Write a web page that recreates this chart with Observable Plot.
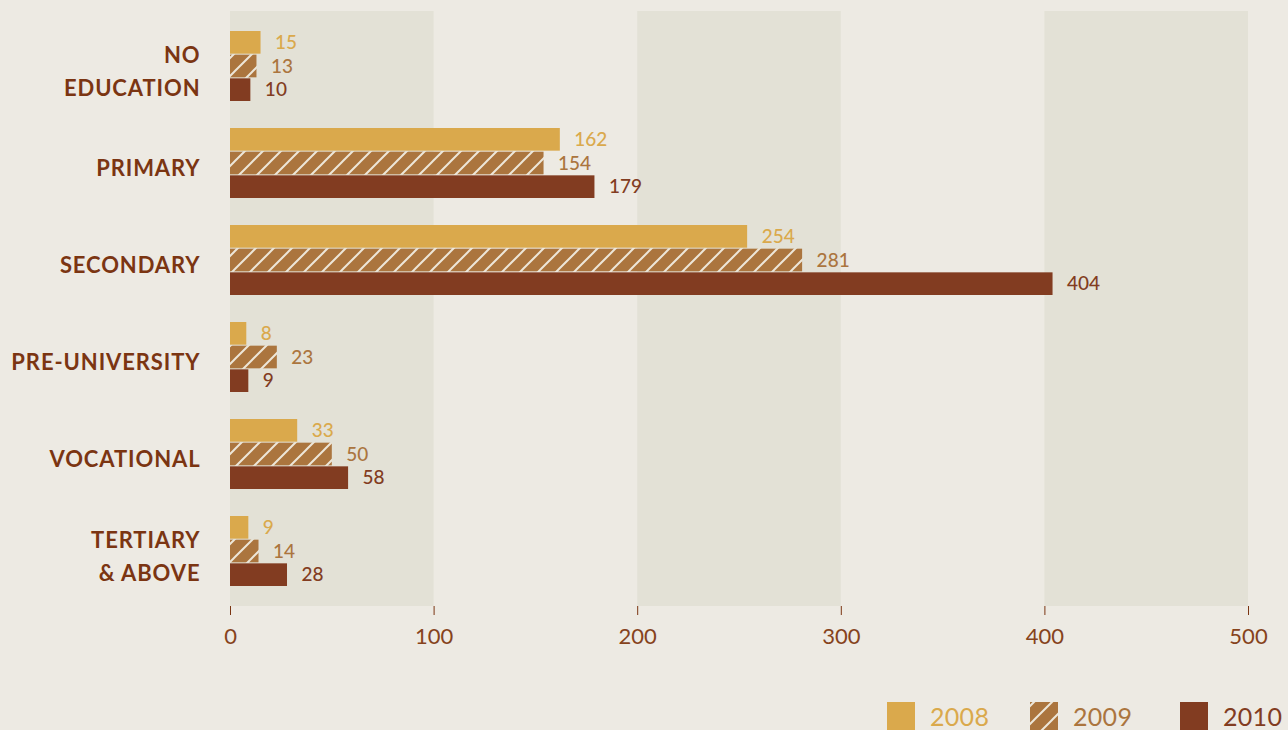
<!DOCTYPE html>
<html>
<head>
<meta charset="utf-8">
<script src="https://cdn.jsdelivr.net/npm/d3@7"></script>
<script src="https://cdn.jsdelivr.net/npm/@observablehq/plot@0.6"></script>
<style>
  html, body { margin: 0; padding: 0; background: #EDEAE3; }
  body { width: 1288px; height: 730px; overflow: hidden; font-family: Lato, "Open Sans", sans-serif; }
  #chart svg { display: block; }
  #legend { position: absolute; top: 702px; left: 0; width: 1288px; height: 28px; }
  .item { position: absolute; top: 0; display: flex; align-items: center; height: 28px; }
  .item span { font-size: 25px; margin-left: 15px; font-weight: 400; line-height: 28px; letter-spacing: 0.3px; }
</style>
</head>
<body>
<div id="chart"></div>
<div id="legend"></div>
<script>
const categories = ["NO\nEDUCATION", "PRIMARY", "SECONDARY", "PRE-UNIVERSITY", "VOCATIONAL", "TERTIARY\n& ABOVE"];
const years = ["2008", "2009", "2010"];
const v2008 = [15, 162, 254, 8, 33, 9];
const v2009 = [13, 154, 281, 23, 50, 14];
const v2010 = [10, 179, 404, 9, 58, 28];
const xTicks = [0, 100, 200, 300, 400, 500];

const colors = {"2008": "#DAA94C", "2009": "#AB753E", "2010": "#823C21"};
const textColor = "#7B3512";

const values = {"2008": v2008, "2009": v2009, "2010": v2010};
const rows = years.flatMap(yr => categories.map((c, i) => ({category: c, year: yr, value: values[yr][i]})));
const bands = [];
for (let i = 0; i + 1 < xTicks.length; i += 2) bands.push({x1: xTicks[i], x2: xTicks[i + 1]});

const W = 1288, H = 660, mt = 11, mb = H - 606, ml = 230, mr = W - 1248;
const pIn = 0.274, pOut = 0.179;
const step = (H - mt - mb) / (categories.length - pIn + 2 * pOut);
const bw = step * (1 - pIn);
const third = bw / 3;

const barFor = (yr, k) => Plot.barX(rows.filter(d => d.year === yr), {
  x: "value", y: "category",
  fill: yr === "2009" ? "url(#hatch2009)" : colors[yr],
  insetTop: k * third, insetBottom: (2 - k) * third
});
const labFor = (yr, k) => Plot.text(rows.filter(d => d.year === yr), {
  x: "value", y: "category", text: d => String(d.value),
  dy: (k - 1) * third, dx: 14, textAnchor: "start",
  fill: colors[yr], fontSize: 19, fontWeight: 500
});

const plot = Plot.plot({
  width: W, height: H,
  marginTop: mt, marginBottom: mb, marginLeft: ml, marginRight: mr,
  style: {background: "transparent", fontFamily: "Lato, 'Open Sans', sans-serif"},
  x: {domain: [0, 500], ticks: xTicks, label: null},
  y: {domain: categories, paddingInner: pIn, paddingOuter: pOut, axis: null, label: null},
  marks: [
    Plot.rect(bands, {x1: "x1", x2: "x2", fill: "#E3E1D6"}),
    Plot.axisX({ticks: xTicks, tickSize: 9, tickPadding: 13, stroke: textColor, fill: "#86431C",
      fontSize: 22, fontWeight: 400, label: null, tickFormat: d => String(d)}),
    ...years.map((yr, k) => barFor(yr, k)),
    ...years.map((yr, k) => labFor(yr, k)),
    Plot.text(categories, {y: d => d, text: d => d, frameAnchor: "left", dx: -30, dy: 2, textAnchor: "end",
      fill: textColor, fontSize: 22, fontWeight: 700, lineHeight: 1.5})
  ]
});

// hatch pattern
const ns = "http://www.w3.org/2000/svg";
function addPattern(svg, id) {
  const defs = document.createElementNS(ns, "defs");
  defs.innerHTML = `<pattern id="${id}" patternUnits="userSpaceOnUse" width="18" height="18">
    <rect width="18" height="18" fill="${colors["2009"]}"/>
    <path d="M-3,3 L3,-3 M0,18 L18,0 M15,21 L21,15" stroke="#EDE6D8" stroke-width="2"/>
  </pattern>`;
  svg.insertBefore(defs, svg.firstChild);
}
addPattern(plot, "hatch2009");
// letter spacing for category labels
plot.querySelectorAll("g[aria-label='text']").forEach(g => {
  if (g.getAttribute("font-weight") === "700") g.setAttribute("letter-spacing", "0.9");
});
document.getElementById("chart").appendChild(plot);

// legend
const legend = document.getElementById("legend");
const lefts = [887, 1030, 1180];
years.forEach((yr, k) => {
  const item = document.createElement("div");
  item.className = "item";
  item.style.left = lefts[k] + "px";
  const sw = document.createElementNS(ns, "svg");
  sw.setAttribute("width", 28); sw.setAttribute("height", 28);
  if (yr === "2009") {
    const d = document.createElementNS(ns, "defs");
    d.innerHTML = `<pattern id="hatchLeg" patternUnits="userSpaceOnUse" width="18" height="18" x="4">
      <rect width="18" height="18" fill="${colors["2009"]}"/>
      <path d="M-3,3 L3,-3 M0,18 L18,0 M15,21 L21,15" stroke="#EDE6D8" stroke-width="2"/></pattern>`;
    sw.appendChild(d);
  }
  const r = document.createElementNS(ns, "rect");
  r.setAttribute("width", 28); r.setAttribute("height", 28);
  r.setAttribute("fill", yr === "2009" ? "url(#hatchLeg)" : colors[yr]);
  sw.appendChild(r);
  item.appendChild(sw);
  const s = document.createElement("span");
  s.textContent = yr; s.style.color = colors[yr];
  item.appendChild(s);
  legend.appendChild(item);
});
</script>
</body>
</html>
